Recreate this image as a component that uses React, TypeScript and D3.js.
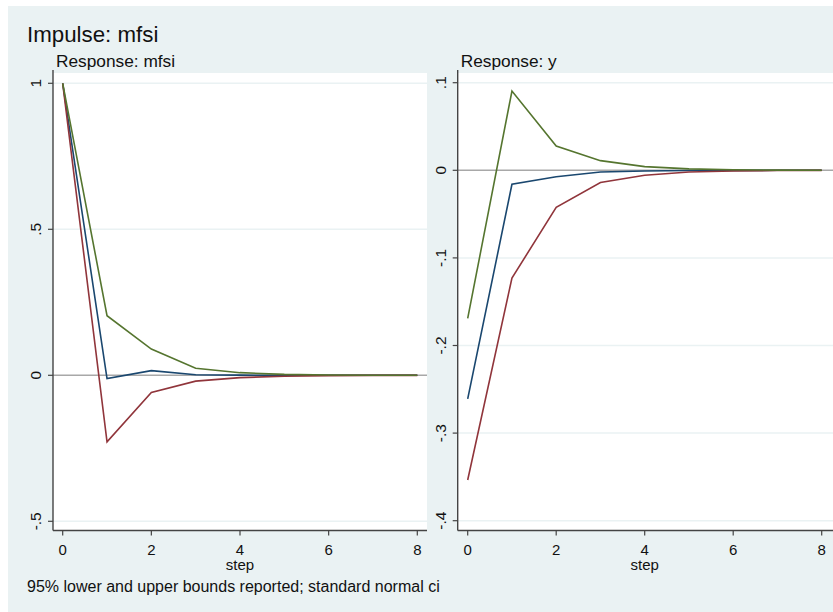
import React from "react";
import * as d3 from "d3";

// Impulse response of mfsi, 95% bands
const steps = [0, 1, 2, 3, 4, 5, 6, 7, 8];

const irfMfsi = [1, -0.011, 0.016, 0.002, 0.0005, 0.0001, 0, 0, 0];
const upperMfsi = [1, 0.204, 0.09, 0.024, 0.009, 0.003, 0.001, 0.0003, 0.0001];
const lowerMfsi = [1, -0.228, -0.059, -0.02, -0.008, -0.003, -0.001, -0.0003, -0.0001];

const irfY = [-0.261, -0.016, -0.0073, -0.002, -0.0008, -0.0003, -0.0001, 0, 0];
const upperY = [-0.169, 0.0905, 0.0277, 0.011, 0.0042, 0.0016, 0.0006, 0.0002, 0.0001];
const lowerY = [-0.3535, -0.123, -0.0423, -0.014, -0.0057, -0.002, -0.0008, -0.0003, -0.0001];

const xTicks = [0, 2, 4, 6, 8];
const yTicksMfsi = [-0.5, 0, 0.5, 1];
const yTickLabelsMfsi = ["-.5", "0", ".5", "1"];
const yTicksY = [-0.4, -0.3, -0.2, -0.1, 0, 0.1];
const yTickLabelsY = ["-.4", "-.3", "-.2", "-.1", "0", ".1"];

const FONT = "'Liberation Sans', Arial, Helvetica, sans-serif";
const BG = "#eaf2f3";
const NAVY = "#1a476f";
const MAROON = "#90353b";
const GREEN = "#55752f";

type PanelProps = {
  title: string;
  left: number;
  right: number;
  xRange: [number, number];
  yDomain: [number, number];
  yRange: [number, number];
  yTicks: number[];
  yLabels: string[];
  irf: number[];
  lower: number[];
  upper: number[];
};

const TOP = 73;
const BOTTOM = 530.5;

function Panel(p: PanelProps) {
  const x = d3.scaleLinear().domain([0, 8]).range(p.xRange);
  const y = d3.scaleLinear().domain(p.yDomain).range(p.yRange);
  const line = d3
    .line<number>()
    .x((_, i) => x(steps[i]))
    .y((v) => y(v));
  return (
    <g>
      <text x={p.left + 3} y={66.5} fontSize={17.3} fontFamily={FONT} fill="#111">
        {p.title}
      </text>
      <rect x={p.left} y={TOP} width={p.right - p.left} height={BOTTOM - TOP} fill="#fff" />
      {p.yTicks.map((t) =>
        t === 0 ? null : (
          <line key={t} x1={p.left} x2={p.right} y1={y(t)} y2={y(t)} stroke={BG} strokeWidth={1.5} />
        )
      )}
      <line x1={p.left} x2={p.right} y1={y(0)} y2={y(0)} stroke="#a8a8a8" strokeWidth={1.5} />
      <path d={line(p.irf) || ""} fill="none" stroke={NAVY} strokeWidth={1.6} />
      <path d={line(p.lower) || ""} fill="none" stroke={MAROON} strokeWidth={1.6} />
      <path d={line(p.upper) || ""} fill="none" stroke={GREEN} strokeWidth={1.6} />
      {/* axes */}
      <line x1={p.left} x2={p.left} y1={TOP - 3} y2={BOTTOM} stroke="#444" strokeWidth={1.4} />
      <line x1={p.left} x2={p.right} y1={BOTTOM} y2={BOTTOM} stroke="#444" strokeWidth={1.4} />
      {p.yTicks.map((t, i) => (
        <g key={t}>
          <line x1={p.left - 5} x2={p.left} y1={y(t)} y2={y(t)} stroke="#444" strokeWidth={1.2} />
          <text
            transform={`translate(${p.left - 12},${y(t)}) rotate(-90)`}
            textAnchor="middle"
            fontSize={15.5}
            fontFamily={FONT}
            fill="#111"
          >
            {p.yLabels[i]}
          </text>
        </g>
      ))}
      {xTicks.map((t) => (
        <g key={t}>
          <line x1={x(t)} x2={x(t)} y1={BOTTOM} y2={BOTTOM + 5} stroke="#444" strokeWidth={1.2} />
          <text x={x(t)} y={554.5} textAnchor="middle" fontSize={15} fontFamily={FONT} fill="#111">
            {t}
          </text>
        </g>
      ))}
      <text
        x={(p.xRange[0] + p.xRange[1]) / 2}
        y={570}
        textAnchor="middle"
        fontSize={15}
        fontFamily={FONT}
        fill="#111"
      >
        step
      </text>
    </g>
  );
}

export default function App() {
  return (
    <svg
      width={833}
      height={612}
      style={{ position: "absolute", left: 0, top: 0, display: "block" }}
    >
      <rect x={0} y={0} width={833} height={612} fill="#fff" />
      <rect x={8} y={6} width={825} height={606} fill={BG} />
      <text x={27} y={42} fontSize={22.3} fontFamily={FONT} fill="#111">
        Impulse: mfsi
      </text>
      <Panel
        title="Response: mfsi"
        left={53}
        right={427}
        xRange={[62.7, 417.3]}
        yDomain={[-0.5, 1]}
        yRange={[521.3, 83.3]}
        yTicks={yTicksMfsi}
        yLabels={yTickLabelsMfsi}
        irf={irfMfsi}
        lower={lowerMfsi}
        upper={upperMfsi}
      />
      <Panel
        title="Response: y"
        left={457.7}
        right={833}
        xRange={[467.7, 821.7]}
        yDomain={[-0.4, 0.1]}
        yRange={[520.7, 82.7]}
        yTicks={yTicksY}
        yLabels={yTickLabelsY}
        irf={irfY}
        lower={lowerY}
        upper={upperY}
      />
      <text x={27} y={592} fontSize={16} fontFamily={FONT} fill="#111">
        95% lower and upper bounds reported; standard normal ci
      </text>
    </svg>
  );
}
